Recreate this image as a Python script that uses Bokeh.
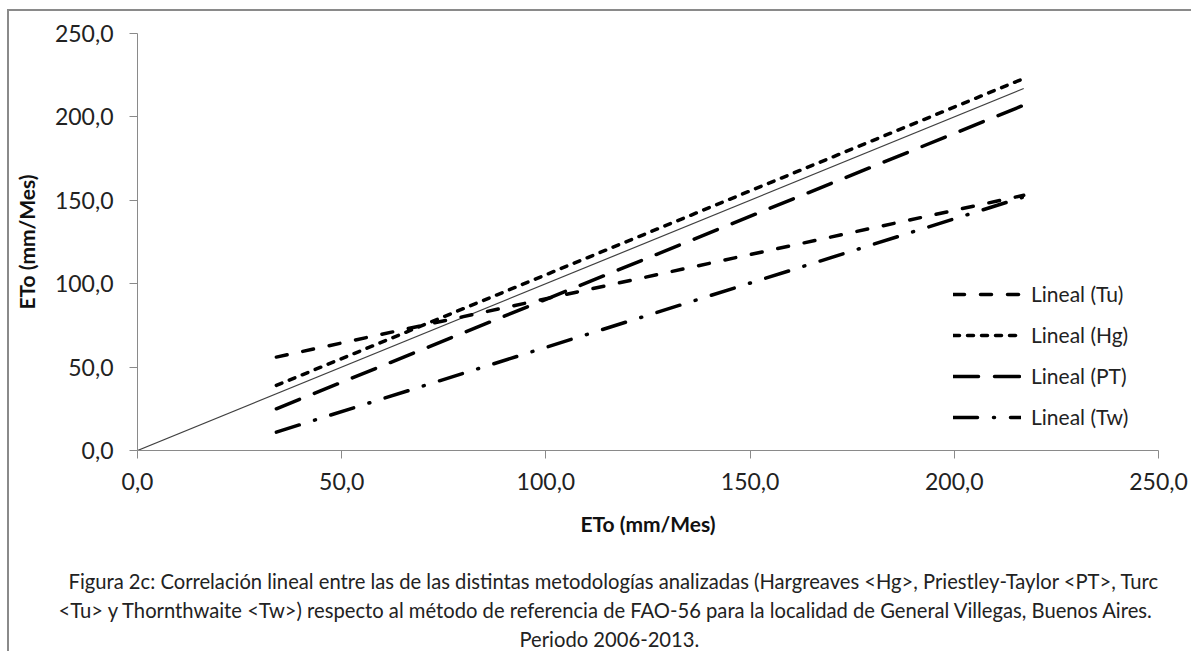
from bokeh.plotting import figure
from bokeh.models import FixedTicker, Legend, LegendItem, Title
from bokeh.embed import file_html
from bokeh.resources import INLINE

# ---- data ----
ticks = [0, 50, 100, 150, 200, 250]
tick_labels = ["0,0", "50,0", "100,0", "150,0", "200,0", "250,0"]

ref_x = [0, 217]
ref_y = [0, 217]

trend_x = [34, 217]
series_names = ["Lineal (Tu)", "Lineal (Hg)", "Lineal (PT)", "Lineal (Tw)"]
tu_y = [56, 153]
hg_y = [39, 223]
pt_y = [25, 207]
tw_y = [11, 152]

caption_lines = [
    "Figura 2c: Correlación lineal entre las de las distintas metodologías  analizadas  (Hargreaves <Hg>, Priestley-Taylor <PT>, Turc",
    "<Tu> y Thornthwaite <Tw>) respecto al método de referencia de FAO-56 para la localidad de General Villegas, Buenos Aires.",
    "Periodo 2006-2013.",
]
caption_offsets = [-69, -79, 382]

FONT = "Lato"

p = figure(width=1184, height=642, x_range=(0, 250), y_range=(0, 250),
           output_backend="svg", toolbar_location=None,
           min_border_left=128, min_border_right=35,
           min_border_top=22, min_border_bottom=203)
p.styles = {"border-left": "2px solid #8a8a8a", "border-top": "2px solid #8a8a8a",
            "margin-left": "7px", "margin-top": "9px"}
p.outline_line_color = None
p.xgrid.visible = False
p.ygrid.visible = False

for ax in (p.xaxis[0], p.yaxis[0]):
    ax.ticker = FixedTicker(ticks=ticks)
    ax.major_label_overrides = {t: l for t, l in zip(ticks, tick_labels)}
    ax.minor_tick_line_color = None
    ax.major_tick_in = 0
    ax.major_tick_out = 8
    ax.axis_line_color = "#8a8a8a"
    ax.major_tick_line_color = "#8a8a8a"
    ax.major_label_text_font = FONT
    ax.major_label_text_font_size = "23px"
    ax.major_label_text_color = "#222222"
    ax.axis_label = "ETo (mm/Mes)"
    ax.axis_label_text_font = FONT
    ax.axis_label_text_font_size = "21px"
    ax.axis_label_text_font_style = "bold"
    ax.axis_label_text_color = "#111111"

p.xaxis.major_label_standoff = 14
p.xaxis.axis_label_standoff = 18
p.yaxis.major_label_standoff = 16
p.yaxis.axis_label_standoff = 13

p.line(ref_x, ref_y, line_color="#404040", line_width=1.2)

W = 3.5
r_tu = p.line(trend_x, tu_y, line_color="black", line_width=W, line_cap="round", line_dash="11 16")
r_hg = p.line(trend_x, hg_y, line_color="black", line_width=W, line_cap="round", line_dash="6 8")
r_pt = p.line(trend_x, pt_y, line_color="black", line_width=W, line_cap="round", line_dash="25 16")
r_tw = p.line(trend_x, tw_y, line_color="black", line_width=W, line_cap="round", line_dash="24 16 1 16")

legend = Legend(items=[LegendItem(label=n, renderers=[r]) for n, r in
                       zip(series_names, [r_tu, r_hg, r_pt, r_tw])],
                location=(816, 21))
legend.padding = 0
legend.margin = 0
legend.border_line_color = None
legend.background_fill_alpha = 0
legend.glyph_width = 68
legend.glyph_height = 24
legend.label_height = 24
legend.spacing = 16
legend.label_standoff = 10
legend.label_text_font = FONT
legend.label_text_font_size = "21px"
legend.label_text_color = "#222222"
legend.label_text_baseline = "middle"
p.add_layout(legend, "center")

# spacer between the axis title and the caption
p.add_layout(Title(text=" ", text_font_size="2px", standoff=23), "below")
for line, off in zip(caption_lines, caption_offsets):
    p.add_layout(Title(text=line, align="left", offset=off, standoff=3,
                       text_font=FONT, text_font_size="20.2px",
                       text_font_style="normal", text_color="#222222"), "below")

open("out.html", "w").write(file_html(p, INLINE))
